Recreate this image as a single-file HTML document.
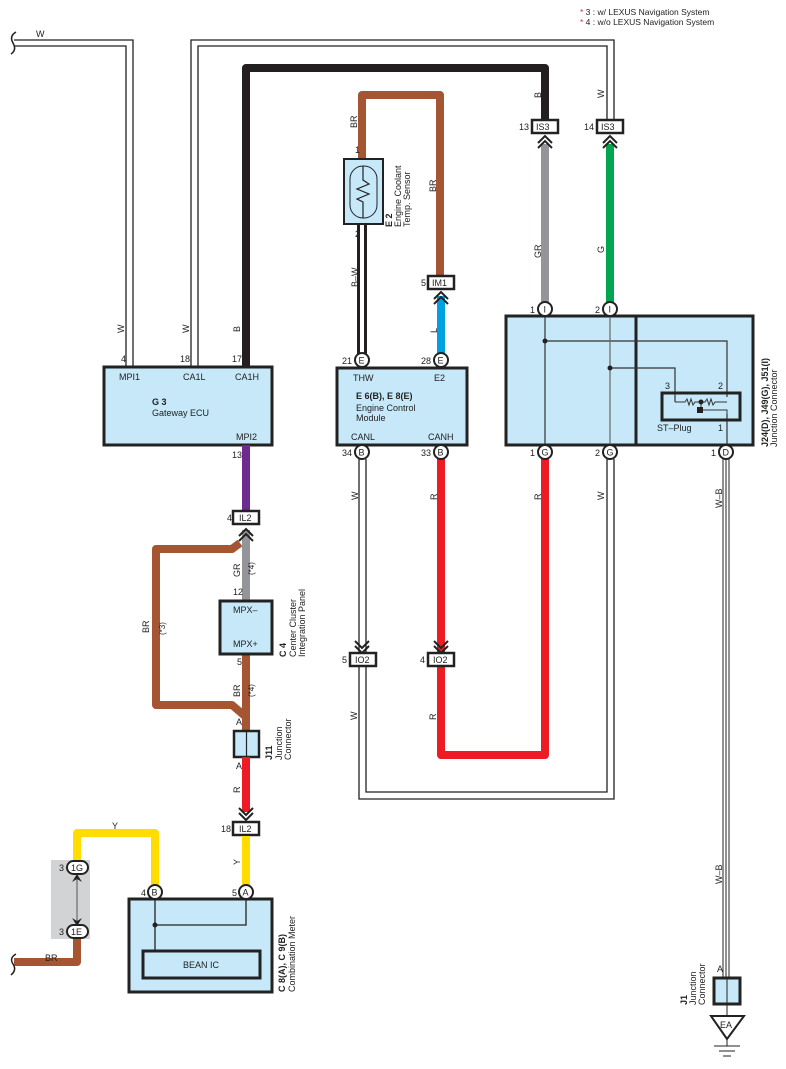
<!DOCTYPE html>
<html><head><meta charset="utf-8"><style>
html,body{margin:0;padding:0;background:#fff}
svg{display:block;font-family:"Liberation Sans",sans-serif}
text{font-size:9px;fill:#222}
.bx{fill:#c6e8f8;stroke:#222;stroke-width:3}
.cn{fill:#fff;stroke:#222;stroke-width:2.5}
.pin{fill:#fff;stroke:#222;stroke-width:2}
.w1{fill:none;stroke:#222;stroke-width:1.3}
.ch{fill:none;stroke:#222;stroke-width:2}
</style></head><body>
<svg width="786" height="1069" viewBox="0 0 786 1069">
<!-- notes -->
<text x="580" y="15" style="font-size:8.5px"><tspan fill="#e03030">*</tspan> 3 : w/ LEXUS Navigation System</text>
<text x="580" y="25" style="font-size:8.5px"><tspan fill="#e03030">*</tspan> 4 : w/o LEXUS Navigation System</text>

<!-- W wire 1 -->
<path class="w1" d="M14,40 H133 V367 M14,46 H126 V367"/>
<path d="M16,32 Q9,36 13,43 Q17,50 11,54" fill="none" stroke="#222" stroke-width="1.5"/>
<text x="36" y="37">W</text>
<!-- W wire 2 -->
<path class="w1" d="M191,367 V40 H614 V120 M198,367 V46 H607 V120"/>
<!-- black B -->
<path d="M246,367 V68 H545 V120" fill="none" stroke="#231f20" stroke-width="8" stroke-linejoin="round"/>

<!-- wire labels top -->
<g style="font-size:9px">
<text transform="translate(124,333) rotate(-90)">W</text>
<text transform="translate(189,333) rotate(-90)">W</text>
<text transform="translate(240,332) rotate(-90)">B</text>
<text transform="translate(541,98) rotate(-90)">B</text>
<text transform="translate(604,98) rotate(-90)">W</text>
</g>

<!-- G3 -->
<rect class="bx" x="104" y="367" width="168" height="78"/>
<text x="121" y="362">4</text><text x="180" y="362">18</text><text x="232" y="362">17</text>
<text x="119" y="380">MPI1</text><text x="183" y="380">CA1L</text><text x="235" y="380">CA1H</text>
<text x="152" y="405" style="font-weight:bold">G 3</text>
<text x="152" y="416">Gateway ECU</text>
<text x="236" y="440">MPI2</text>
<text x="232" y="458">13</text>

<!-- purple -->
<line x1="246" y1="445" x2="246" y2="511" stroke="#6e2a8e" stroke-width="8"/>
<!-- brown branch -->
<path d="M240,543 L232,549 H156 V705 H232 L246,717" fill="none" stroke="#a65533" stroke-width="8" stroke-linejoin="round"/>
<line x1="246" y1="530" x2="246" y2="600" stroke="#949599" stroke-width="8"/>
<line x1="246" y1="654" x2="246" y2="732" stroke="#a65533" stroke-width="8"/>
<path class="ch" d="M239,536 L246,529 L253,536 M239,541 L246,534 L253,541"/>
<rect class="cn" x="233" y="511" width="26" height="13"/>
<text x="239" y="521">IL2</text><text x="227" y="521">4</text>
<text transform="translate(240,577) rotate(-90)">GR</text>
<text transform="translate(254,575) rotate(-90)" style="font-size:8px">(*4)</text>
<text transform="translate(149,633) rotate(-90)">BR</text>
<text transform="translate(165,635) rotate(-90)" style="font-size:8px">(*3)</text>
<text x="233" y="595">12</text>
<!-- C4 -->
<rect class="bx" x="220" y="601" width="52" height="53"/>
<text x="233" y="613">MPX–</text><text x="233" y="647">MPX+</text>
<text x="237" y="665">5</text>
<text transform="translate(240,697) rotate(-90)">BR</text>
<text transform="translate(254,697) rotate(-90)" style="font-size:8px">(*4)</text>
<text transform="translate(286,657) rotate(-90)" style="font-weight:bold">C 4</text>
<text transform="translate(296,657) rotate(-90)">Center Cluster</text>
<text transform="translate(305,657) rotate(-90)">Integration Panel</text>
<!-- J11 -->
<text x="236" y="725">A</text><text x="236" y="769">A</text>
<rect x="234" y="731" width="25" height="26" fill="#c6e8f8" stroke="#222" stroke-width="2.5"/>
<line x1="246.5" y1="731" x2="246.5" y2="757" stroke="#222" stroke-width="1.2"/>
<text transform="translate(272,760) rotate(-90)" style="font-weight:bold">J11</text>
<text transform="translate(282,760) rotate(-90)">Junction</text>
<text transform="translate(291,760) rotate(-90)">Connector</text>
<!-- red -->
<line x1="246" y1="757" x2="246" y2="812" stroke="#ed1c24" stroke-width="8"/>
<path class="ch" d="M239,808 L246,815 L253,808 M239,813 L246,820 L253,813"/>
<text transform="translate(240,793) rotate(-90)">R</text>
<rect class="cn" x="233" y="822" width="26" height="13"/>
<text x="239" y="832">IL2</text><text x="221" y="832">18</text>
<!-- yellow -->
<path d="M246,836 V886 M155,886 V833 H77 V862" fill="none" stroke="#ffdd00" stroke-width="8" stroke-linejoin="round"/>
<text transform="translate(240,865) rotate(-90)">Y</text>
<text x="112" y="829">Y</text>
<!-- combo meter -->
<rect class="bx" x="129" y="899" width="143" height="93"/>
<path class="w1" d="M155,899 V950 M246,899 V925 H155" stroke-width="1.2"/>
<circle cx="155" cy="925" r="2.5" fill="#222"/>
<rect x="143" y="951" width="117" height="27" fill="#c6e8f8" stroke="#222" stroke-width="3"/>
<text x="183" y="968">BEAN IC</text>
<circle class="pin" cx="155" cy="892" r="7"/><text x="151.5" y="895.5">B</text><text x="141" y="896">4</text>
<circle class="pin" cx="246" cy="892" r="7"/><text x="242.5" y="895.5">A</text><text x="232" y="896">5</text>
<text transform="translate(285,992) rotate(-90)" style="font-weight:bold">C 8(A), C 9(B)</text>
<text transform="translate(295,992) rotate(-90)">Combination Meter</text>
<!-- gray 1G/1E -->
<rect x="51" y="860" width="39" height="79" fill="#d2d3d5"/>
<line x1="77" y1="873" x2="77" y2="927" stroke="#555" stroke-width="1"/>
<path d="M72,882 L77,874 L82,882 L77,879Z M72,918 L77,926 L82,918 L77,921Z" fill="#222"/>
<path d="M77,938 V962 H14" fill="none" stroke="#a65533" stroke-width="8" stroke-linejoin="round"/>
<path d="M16,954 Q9,958 13,964 Q17,970 11,975" fill="none" stroke="#222" stroke-width="1.5"/>
<text x="45" y="961">BR</text>
<rect x="67" y="861" width="21" height="13" rx="6.5" fill="#fff" stroke="#222" stroke-width="2"/>
<text x="71" y="871">1G</text><text x="59" y="871">3</text>
<rect x="67" y="925" width="21" height="13" rx="6.5" fill="#fff" stroke="#222" stroke-width="2"/>
<text x="71" y="935">1E</text><text x="59" y="935">3</text>

<!-- E2 sensor and brown -->
<path d="M362,158 V95 H440 V276" fill="none" stroke="#a65533" stroke-width="8" stroke-linejoin="round"/>
<text transform="translate(357,128) rotate(-90)">BR</text>
<text transform="translate(436,192) rotate(-90)">BR</text>
<text x="355" y="153">1</text>
<rect x="344" y="159" width="39" height="65" fill="#c6e8f8" stroke="#222" stroke-width="2"/>
<rect x="350" y="166" width="27" height="52" rx="13" fill="none" stroke="#222" stroke-width="1"/>
<path d="M363,166 V180 L369,184 L357,189 L369,194 L357,199 L363,202 V218" fill="none" stroke="#222" stroke-width="1.2"/>
<text x="355" y="237">2</text>
<text transform="translate(392,227) rotate(-90)" style="font-weight:bold">E 2</text>
<text transform="translate(401,227) rotate(-90)">Engine Coolant</text>
<text transform="translate(410,227) rotate(-90)">Temp.  Sensor</text>
<path d="M358.5,224 V354 M365.5,224 V354" stroke="#231f20" stroke-width="3"/>
<text transform="translate(358,287) rotate(-90)">B–W</text>
<rect class="cn" x="428" y="276" width="26" height="13"/>
<text x="432" y="286">IM1</text><text x="421" y="286">5</text>
<line x1="441" y1="296" x2="441" y2="354" stroke="#00a0e3" stroke-width="8"/>
<path class="ch" d="M434,299 L441,292 L448,299 M434,304 L441,297 L448,304"/>
<text transform="translate(437,333) rotate(-90)">L</text>
<!-- ECM -->
<rect class="bx" x="337" y="368" width="130" height="77"/>
<circle class="pin" cx="362" cy="360" r="7"/><text x="358.5" y="363.5">E</text><text x="342" y="364">21</text>
<circle class="pin" cx="441" cy="360" r="7"/><text x="437.5" y="363.5">E</text><text x="421" y="364">28</text>
<text x="353" y="381">THW</text><text x="434" y="381">E2</text>
<text x="356" y="399" style="font-weight:bold">E 6(B), E 8(E)</text>
<text x="356" y="411">Engine Control</text><text x="356" y="421">Module</text>
<text x="351" y="440">CANL</text><text x="428" y="440">CANH</text>
<!-- CAN lines -->
<path class="w1" d="M359,459 V799 H614 V459 M366,459 V792 H607 V459"/>
<path d="M441,459 V755 H545 V459" fill="none" stroke="#ed1c24" stroke-width="8" stroke-linejoin="round"/>
<circle class="pin" cx="362" cy="452" r="7"/><text x="358.5" y="455.5">B</text><text x="342" y="456">34</text>
<circle class="pin" cx="441" cy="452" r="7"/><text x="437.5" y="455.5">B</text><text x="421" y="456">33</text>
<text transform="translate(358,500) rotate(-90)">W</text>
<text transform="translate(437,500) rotate(-90)">R</text>
<text transform="translate(541,500) rotate(-90)">R</text>
<text transform="translate(604,500) rotate(-90)">W</text>
<path class="ch" d="M355,641 L362,648 L369,641 M355,646 L362,653 L369,646"/>
<path class="ch" d="M434,641 L441,648 L448,641 M434,646 L441,653 L448,646"/>
<rect class="cn" x="350" y="653" width="26" height="13"/>
<text x="355" y="663">IO2</text><text x="342" y="663">5</text>
<rect class="cn" x="428" y="653" width="26" height="13"/>
<text x="433" y="663">IO2</text><text x="420" y="663">4</text>
<text transform="translate(357,720) rotate(-90)">W</text>
<text transform="translate(436,720) rotate(-90)">R</text>

<!-- GR / G -->
<line x1="545" y1="144" x2="545" y2="302" stroke="#949599" stroke-width="8"/>
<line x1="610" y1="144" x2="610" y2="302" stroke="#00a651" stroke-width="8"/>
<path class="ch" d="M538,143 L545,136 L552,143 M538,148 L545,141 L552,148"/>
<path class="ch" d="M603,143 L610,136 L617,143 M603,148 L610,141 L617,148"/>
<rect class="cn" x="532" y="120" width="26" height="13"/>
<text x="536" y="130">IS3</text><text x="519" y="130">13</text>
<rect class="cn" x="597" y="120" width="26" height="13"/>
<text x="601" y="130">IS3</text><text x="584" y="130">14</text>
<text transform="translate(541,258) rotate(-90)">GR</text>
<text transform="translate(604,253) rotate(-90)">G</text>

<!-- J box -->
<rect class="bx" x="506" y="316" width="247" height="129"/>
<line x1="636" y1="316" x2="636" y2="445" stroke="#222" stroke-width="3"/>
<path d="M545,316 V445 M545,341 H727 V397 M610,368 H675 V402 M727,414 V445" fill="none" stroke="#333" stroke-width="1.2"/>
<line x1="610" y1="316" x2="610" y2="445" stroke="#666" stroke-width="1.2"/>
<circle cx="545" cy="341" r="2.5" fill="#222"/><circle cx="610" cy="368" r="2.5" fill="#222"/>
<rect x="662" y="393" width="78" height="27" fill="none" stroke="#222" stroke-width="3"/>
<path d="M675,402 H685 L687,399 L689,405 L691,399 L693,405 L695,402 H705 L707,399 L709,405 L711,399 L713,405 L715,402 H727 M701,402 V410 H727 V416" fill="none" stroke="#333" stroke-width="1"/>
<circle cx="701" cy="402" r="2.5" fill="#222"/>
<rect x="697" y="407" width="6" height="6" fill="#222"/>
<text x="665" y="389">3</text><text x="718" y="389">2</text>
<text x="657" y="431">ST–Plug</text><text x="718" y="431">1</text>
<circle class="pin" cx="545" cy="309" r="7"/><text x="543.5" y="312.5">I</text><text x="530" y="313">1</text>
<circle class="pin" cx="610" cy="309" r="7"/><text x="608.5" y="312.5">I</text><text x="595" y="313">2</text>
<circle class="pin" cx="545" cy="452" r="7"/><text x="541.5" y="455.5">G</text><text x="530" y="456">1</text>
<circle class="pin" cx="610" cy="452" r="7"/><text x="606.5" y="455.5">G</text><text x="595" y="456">2</text>
<circle class="pin" cx="726" cy="452" r="7"/><text x="722.5" y="455.5">D</text><text x="711" y="456">1</text>
<text transform="translate(768,447) rotate(-90)" style="font-weight:bold">J24(D), J49(G), J51(I)</text>
<text transform="translate(777,447) rotate(-90)">Junction Connector</text>

<!-- W-B -->
<path d="M723,459 V978 M726,459 V978 M729,459 V978" stroke="#222" stroke-width="1"/>
<text transform="translate(722,508) rotate(-90)">W–B</text>
<text transform="translate(722,884) rotate(-90)">W–B</text>
<text x="717" y="972">A</text>
<rect x="714" y="978" width="26" height="26" fill="#c6e8f8" stroke="#222" stroke-width="3"/>
<line x1="727" y1="978" x2="727" y2="1004" stroke="#222" stroke-width="1"/>
<text transform="translate(687,1005) rotate(-90)" style="font-weight:bold">J1</text>
<text transform="translate(696,1005) rotate(-90)">Junction</text>
<text transform="translate(705,1005) rotate(-90)">Connector</text>
<line x1="727" y1="1004" x2="727" y2="1016" stroke="#222" stroke-width="1"/>
<path d="M711,1016 H744 L727,1039Z" fill="#fff" stroke="#222" stroke-width="2"/>
<text x="720" y="1028">EA</text>
<path d="M727,1039 V1046 M714,1046 H740 M719,1051 H735 M723,1056 H731" stroke="#222" stroke-width="1"/>
</svg>
</body></html>
